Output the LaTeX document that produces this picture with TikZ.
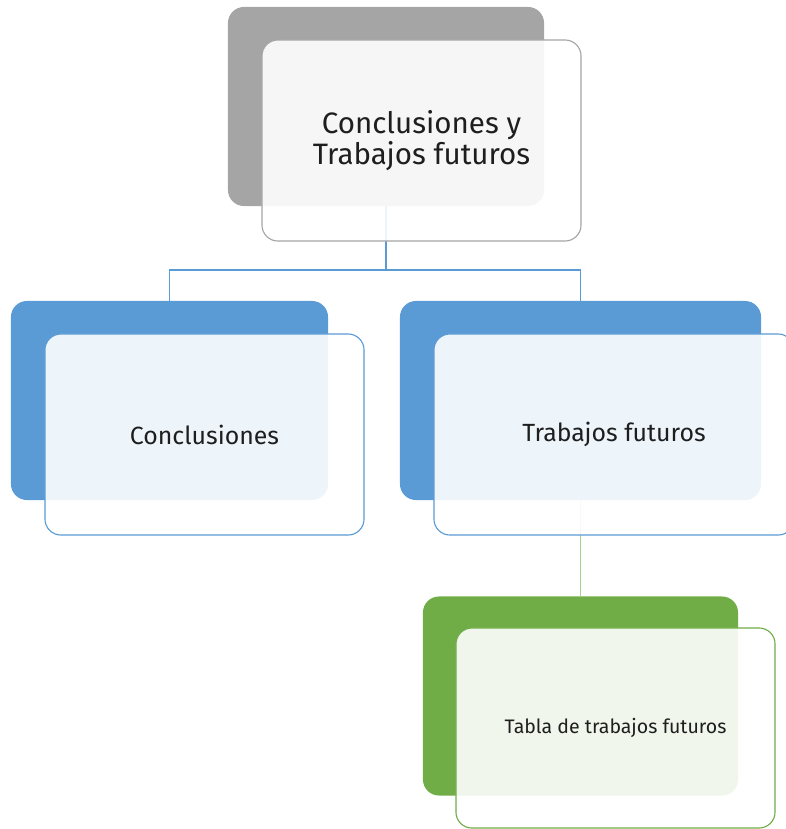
\documentclass[tikz,border=0pt]{standalone}
\usepackage{fontspec}
\setmainfont{Fira Sans}
\usetikzlibrary{calc}

\definecolor{grisfondo}{HTML}{A5A5A5}
\definecolor{azul}{HTML}{5B9BD5}
\definecolor{verde}{HTML}{70AD47}
\definecolor{verdeclaro}{HTML}{A9D18E}
\definecolor{texto}{HTML}{1E1E1E}

\begin{document}
\begin{tikzpicture}[x=0.025cm,y=-0.025cm,
  fondo/.style={rounded corners=0.4cm,inner sep=0pt,minimum height=4.975cm,fill=#1},
  frente/.style={rounded corners=0.4cm,inner sep=0pt,minimum height=5.025cm,
    draw=#1,line width=0.8pt,fill=white,fill opacity=0.9,text opacity=1,text=texto,align=center},
  enlace/.style={line width=0.8pt,draw=#1}]
  \useasboundingbox (0,0) rectangle (786,829);
  % cajas de fondo
  \node[fondo=grisfondo,minimum width=7.9cm] (raizb) at (386,106.5) {};
  \node[fondo=azul,minimum width=7.925cm] (concb) at (169.5,400.5) {};
  \node[fondo=azul,minimum width=9.025cm] (trabb) at (580.5,400.5) {};
  \node[fondo=verde,minimum width=7.875cm] (tablab) at (580.5,696) {};
  % conectores
  \coordinate (rama) at (386,270);
  \draw[enlace=azul] (raizb.south) -- (rama) -| (concb.north);
  \draw[enlace=azul] (rama) -| (trabb.north);
  \draw[enlace=verdeclaro,line width=1pt] (trabb.south) -- (tablab.north);
  % cajas de frente con texto
  \node[frente=grisfondo,minimum width=7.975cm,font=\fontsize{21}{20.5}\selectfont] (raiz) at (421.5,140.5) {Conclusiones y\\Trabajos futuros};
  \node[frente=azul,minimum width=7.975cm,font=\fontsize{17.7}{20}\selectfont] (conc) at (204.5,434.5) {Conclusiones};
  \node[frente=azul,minimum width=9cm,font=\fontsize{17.7}{20}\selectfont] (trab) at (614,434.5) {Trabajos futuros};
  \node[frente=verde,minimum width=7.975cm,minimum height=5cm,font=\fontsize{13.9}{16}\selectfont] (tabla) at (615.5,728) {Tabla de trabajos futuros};
\end{tikzpicture}
\end{document}
